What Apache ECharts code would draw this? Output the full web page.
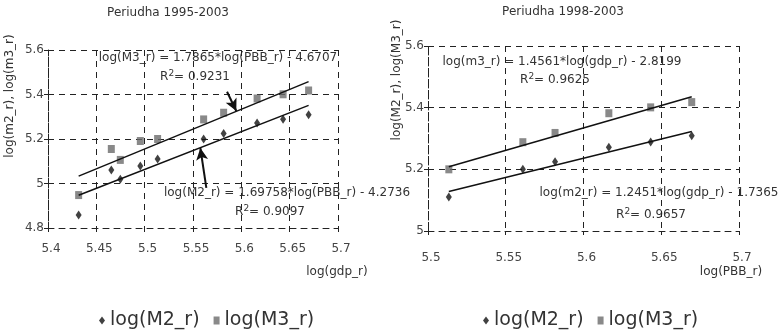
<!DOCTYPE html>
<html>
<head>
<meta charset="utf-8">
<script src="https://cdn.jsdelivr.net/npm/echarts@6/dist/echarts.min.js"></script>
<style>
  html, body { margin: 0; padding: 0; background: #fff; }
  #chart { width: 779px; height: 333px; }
</style>
</head>
<body>
<div id="chart"></div>
<script>
// log of real GDP (same values on both charts, right one uses 1998-2003 only)
const gdp = [5.4317, 5.4655, 5.4748, 5.4955, 5.5134, 5.561, 5.5817, 5.6163, 5.6432, 5.6696];
const m2 = [4.858, 5.061, 5.019, 5.079, 5.11, 5.2, 5.225, 5.272, 5.289, 5.309];
const m3 = [4.948, 5.155, 5.106, 5.191, 5.2, 5.288, 5.318, 5.382, 5.401, 5.418];
const subsetStart = 4;

// trend coefficients [slope, intercept]
const fitLeftM3 = [1.7865, -4.6707];
const fitLeftM2 = [1.69758, -4.2736];
const fitRightM3 = [1.4561, -2.8199];
const fitRightM2 = [1.2451, -1.7365];

// arrows on the left chart: [fromX, fromY, toX, toY] in data units
const arrowsLeft = [
  [5.5852, 5.4126, 5.5948, 5.326],
  [5.5638, 4.98, 5.5576, 5.1596]
];

const font = 'DejaVu Sans';
const textColor = '#333';

const pairs = (xs, ys) => xs.map((x, i) => [x, ys[i]]);
const trend = (xs, fit) => {
  const lo = Math.min(...xs), hi = Math.max(...xs);
  return [[lo, fit[0] * lo + fit[1]], [hi, fit[0] * hi + fit[1]]];
};

const gdpR = gdp.slice(subsetStart);
const m2R = m2.slice(subsetStart);
const m3R = m3.slice(subsetStart);

const dashed = { color: '#222', type: [6, 5], width: 1 };

function xAxis(gridIndex, min, max, margin) {
  return {
    type: 'value', gridIndex, min, max, interval: 0.05,
    axisLine: { show: true, onZero: false, lineStyle: dashed },
    axisTick: { show: true, length: 4, lineStyle: { color: '#222' } },
    splitLine: { show: true, lineStyle: dashed },
    axisLabel: { color: '#444', fontSize: 12, fontFamily: font, margin, padding: [0, 0, 0, 6] }
  };
}
function yAxis(gridIndex, min, max) {
  return {
    type: 'value', gridIndex, min, max, interval: 0.2,
    axisLine: { show: true, onZero: false, lineStyle: dashed },
    axisTick: { show: true, length: 4, lineStyle: { color: '#222' } },
    splitLine: { show: true, lineStyle: dashed },
    axisLabel: { color: '#444', fontSize: 12, fontFamily: font, margin: 4 }
  };
}

function scatter(name, data, idx, symbol, size, color) {
  return {
    name, type: 'scatter', xAxisIndex: idx, yAxisIndex: idx,
    data, symbol, symbolSize: size, itemStyle: { color }, z: 3
  };
}
function fitLine(data, idx, extra) {
  return Object.assign({
    type: 'line', xAxisIndex: idx, yAxisIndex: idx, data,
    symbol: 'none', lineStyle: { color: '#111', width: 1.5 }, z: 4, silent: true
  }, extra || {});
}

function txt(x, y, text, size, opts) {
  return Object.assign({
    type: 'text', x, y,
    style: {
      text, fill: textColor, fontSize: size || 12, fontFamily: font,
      align: 'center', verticalAlign: 'middle',
      rich: { sup: { fontSize: 9, verticalAlign: 'top', padding: [0, 0, 6, 0], fill: textColor, fontFamily: font } }
    }
  }, opts || {});
}

const legendItems = [{ name: 'log(M2_r)', icon: 'diamond' }, { name: 'log(M3_r)', icon: 'rect' }];

const chart = echarts.init(document.getElementById('chart'), null, { renderer: 'canvas' });

chart.setOption({
  animation: false,
  grid: [
    { left: 48, top: 50, width: 290, height: 178 },
    { left: 428, top: 46, width: 311, height: 185 }
  ],
  xAxis: [xAxis(0, 5.4, 5.7, 15), xAxis(1, 5.5, 5.7, 21)],
  yAxis: [yAxis(0, 4.8, 5.6), yAxis(1, 5, 5.6)],
  legend: [
    {
      left: 94, top: 306, itemGap: 14, itemWidth: 6, itemHeight: 8,
      textStyle: { fontSize: 19, fontFamily: font, color: textColor },
      data: legendItems
    },
    {
      left: 478, top: 306, itemGap: 14, itemWidth: 6, itemHeight: 8,
      textStyle: { fontSize: 19, fontFamily: font, color: textColor },
      data: legendItems
    }
  ],
  series: [
    scatter('log(M2_r)', pairs(gdp, m2), 0, 'diamond', [6, 9], '#111'),
    scatter('log(M3_r)', pairs(gdp, m3), 0, 'rect', [7, 8], '#6b6b6b'),
    fitLine(trend(gdp, fitLeftM3), 0),
    fitLine(trend(gdp, fitLeftM2), 0, {
      markLine: {
        silent: true, symbol: ['none', 'arrow'], symbolSize: [9, 12],
        lineStyle: { color: '#111', width: 2, type: 'solid' }, label: { show: false },
        data: arrowsLeft.map(a => [{ coord: [a[0], a[1]] }, { coord: [a[2], a[3]] }])
      }
    }),
    scatter('log(M2_r)', pairs(gdpR, m2R), 1, 'diamond', [6, 9], '#111'),
    scatter('log(M3_r)', pairs(gdpR, m3R), 1, 'rect', [7, 8], '#6b6b6b'),
    fitLine(trend(gdpR, fitRightM3), 1),
    fitLine(trend(gdpR, fitRightM2), 1)
  ],
  graphic: [
    txt(168, 13, 'Periudha 1995-2003', 12),
    txt(563, 12, 'Periudha 1998-2003', 12),
    txt(218, 58, 'log(M3_r) = 1.7865*log(PBB_r) - 4.6707', 12),
    txt(195, 77, 'R{sup|2}= 0.9231', 12),
    txt(287, 193, 'log(M2_r) = 1.69758*log(PBB_r) - 4.2736', 12),
    txt(270, 212, 'R{sup|2}= 0.9097', 12),
    txt(562, 62, 'log(m3_r) = 1.4561*log(gdp_r) - 2.8199', 12),
    txt(555, 80, 'R{sup|2}= 0.9625', 12),
    txt(659, 193, 'log(m2_r) = 1.2451*log(gdp_r) - 1.7365', 12),
    txt(651, 215, 'R{sup|2}= 0.9657', 12),
    txt(337, 272, 'log(gdp_r)', 12),
    txt(731, 272, 'log(PBB_r)', 12),
    txt(10, 96, 'log(m2_r), log(m3_r)', 12, { rotation: Math.PI / 2 }),
    txt(397, 80, 'log(M2_r), log(M3_r)', 12, { rotation: Math.PI / 2 })
  ]
});
</script>
</body>
</html>
